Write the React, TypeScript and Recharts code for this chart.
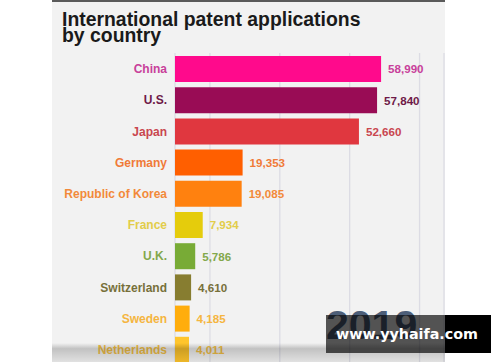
import React from "react";
import { BarChart, Bar, XAxis, YAxis, CartesianGrid, Cell, LabelList } from "recharts";

const countries = ["China", "U.S.", "Japan", "Germany", "Republic of Korea", "France", "U.K.", "Switzerland", "Sweden", "Netherlands"];
const applications = [58990, 57840, 52660, 19353, 19085, 7934, 5786, 4610, 4185, 4011];
const barColors = ["#ff0a8c", "#990c55", "#e0373f", "#ff5f00", "#ff810f", "#e5cc0c", "#78ab36", "#877d30", "#ffad0c", "#ffc52c"];
const labelColors = ["#c8409a", "#6e1a48", "#c9464f", "#f07a38", "#f28a3a", "#e2cd4a", "#83a84c", "#77703a", "#f5b540", "#f2c048"];
const xTicks = [0, 10000, 20000, 30000, 40000, 50000, 60000, 70000];
const title = ["International patent applications", "by country"];
const yearLabel = "2019";
const watermark = "www.yyhaifa.com";

const data = countries.map((c, i) => ({ country: c, value: applications[i] }));

const FONT = "'Liberation Sans', Arial, sans-serif";

const CategoryTick = (props: any) => {
  const { x, y, payload } = props;
  const idx = countries.indexOf(payload.value);
  return (
    <text x={x} y={y} dy={4.5} textAnchor="end" fontFamily={FONT} fontWeight="bold" fontSize={12} fill={labelColors[idx]}>
      {payload.value}
    </text>
  );
};

const ValueLabel = (props: any) => {
  const { x, y, width, height, value, index } = props;
  return (
    <text x={x + width + 7} y={y + height / 2} dy={4.3} textAnchor="start" fontFamily={FONT} fontWeight="bold" fontSize={11.6} fill={labelColors[index]}>
      {Number(value).toLocaleString("en-US")}
    </text>
  );
};

export default function App() {
  return (
    <div style={{ position: "fixed", left: 0, top: 0, width: 500, height: 362, overflow: "hidden", background: "#ffffff" }}>
      <div style={{ position: "absolute", left: 52, top: 0, width: 393, height: 362, background: "#f2f2f2" }} />
      <div style={{ position: "absolute", left: 52, top: 0, width: 393, height: 2, background: "#5a5a5a" }} />
      {title.map((t, i) => (
        <div key={i} style={{ position: "absolute", left: 62, top: 10.6 + i * 16.8, height: 16.8, fontFamily: FONT, fontWeight: "bold", fontSize: 19.4, lineHeight: "17px", color: "#1a1a1a", whiteSpace: "nowrap" }}>
          {t}
        </div>
      ))}
      <div style={{ position: "absolute", left: 0, top: 0 }}>
        <BarChart width={500} height={372} data={data} layout="vertical" margin={{ top: 53, right: 56, bottom: 7, left: 0 }} barCategoryGap={5}>
          <CartesianGrid horizontal={false} vertical={true} stroke="#dcdce4" strokeWidth={1.3} />
          <XAxis type="number" domain={[0, 77000]} ticks={xTicks} hide />
          <YAxis type="category" dataKey="country" width={175} axisLine={false} tickLine={false} tickSize={6} tickMargin={2} tick={<CategoryTick />} interval={0} />
          <Bar dataKey="value" barSize={26} isAnimationActive={false}>
            {data.map((d, i) => (
              <Cell key={d.country} fill={barColors[i]} />
            ))}
            <LabelList dataKey="value" content={<ValueLabel />} />
          </Bar>
        </BarChart>
      </div>
      <div style={{ position: "absolute", left: 52, top: 343, width: 393, height: 19, background: "linear-gradient(to bottom, rgba(0,0,0,0.0), rgba(0,0,0,0.2) 30%, rgba(0,0,0,0.07))" }} />
      <div style={{ position: "absolute", left: 326, top: 301, fontFamily: FONT, fontWeight: "bold", fontSize: 41, lineHeight: "48px", color: "#3b4f6b", opacity: 0.9 }}>
        {yearLabel}
      </div>
      <div style={{ position: "absolute", left: 326, top: 315, width: 119, height: 38, background: "rgba(0,0,0,0.66)" }} />
      <div style={{ position: "absolute", left: 445, top: 315, width: 46, height: 38, background: "#000000" }} />
      <div style={{ position: "absolute", left: 336, top: 324, fontFamily: "'DejaVu Sans', sans-serif", fontWeight: "bold", fontSize: 14.3, lineHeight: "20px", color: "#ffffff", whiteSpace: "nowrap" }}>
        {watermark}
      </div>
    </div>
  );
}
